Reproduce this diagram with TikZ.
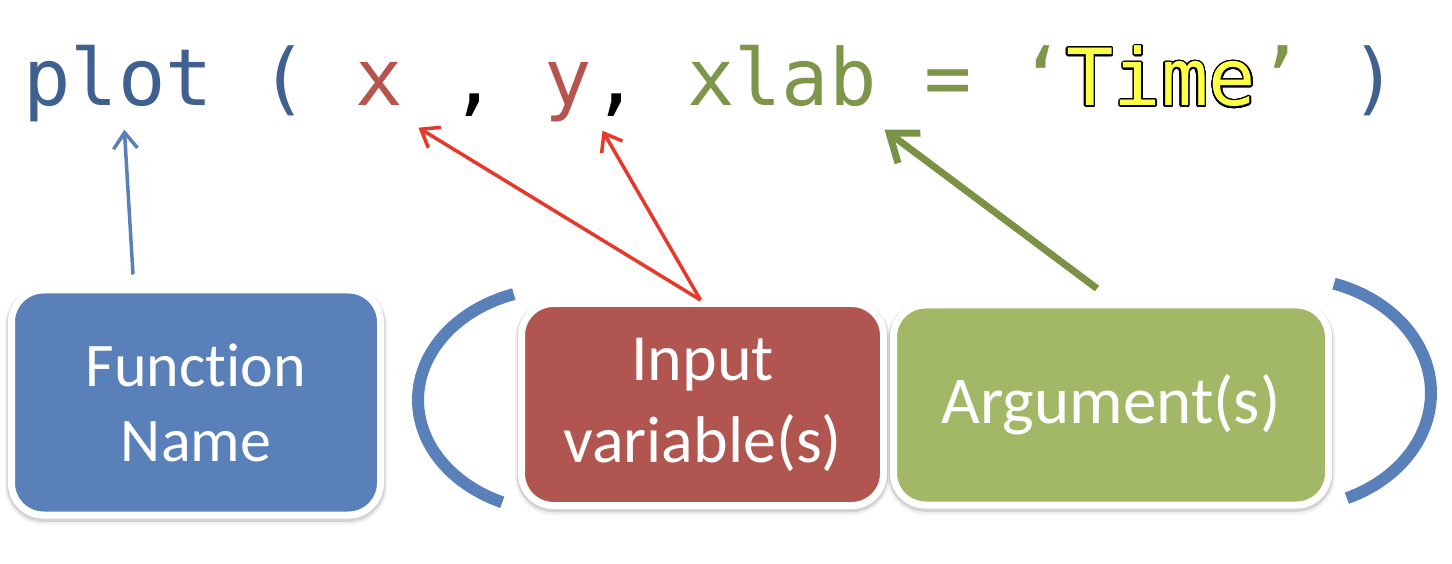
\documentclass[tikz,border=0pt]{standalone}
\usepackage{fontspec}
\usepackage{contour}
\usetikzlibrary{calc}
\usetikzlibrary{arrows.meta}
\newfontfamily\codefont{DejaVu Sans Mono}
\newfontfamily\boxfont[Ligatures={NoCommon,NoContextual}]{Carlito}
\definecolor{codeblue}{HTML}{40608F}
\definecolor{codered}{HTML}{B5554E}
\definecolor{codegreen}{HTML}{7E9649}
\definecolor{timeyellow}{HTML}{FFFF47}
\definecolor{fnblue}{HTML}{5A80B9}
\definecolor{inred}{HTML}{B0554F}
\definecolor{arggreen}{HTML}{A3B867}
\definecolor{ptrred}{HTML}{E7392B}
\definecolor{ptrgreen}{HTML}{7A9245}
\contourlength{1.4pt}
\contournumber{32}
\tikzset{
  codetok/.style={font=\codefont\fontsize{78.8}{80}\selectfont, inner sep=0pt, anchor=base west, text height=0.75em, text depth=0.25em},
  colbox/.style={rounded corners=32pt, draw=white, line width=7pt, text=white, align=center,
    preaction={draw=black, draw opacity=0.06, line width=13pt, transform canvas={yshift=-3pt}},
    preaction={draw=black, draw opacity=0.12, line width=9.5pt, transform canvas={yshift=-2pt}}},
  bracket/.style={draw=fnblue, line width=12pt},
  ptr/.style={-{Straight Barb[length=#1, width=1.5*#1]}}
}
\newcommand{\codetok}[4]{ \node[codetok, text=#3] (#1) at ( #2 , 106 ) {#4};}
\newcommand{\colbox}[8]{ \node[colbox, fill=#2, minimum width=#4, minimum height=#5, font=\boxfont\fontsize{#6}{#7}\selectfont] (#1) at #3 {#8};}

\begin{document}
\begin{tikzpicture}[x=1pt, y=-1pt]
        \useasboundingbox (0,0) rectangle (1452,564);
        % code line
        \codetok{plotkw}{23.3}{codeblue}{plot}
        \codetok{lparen}{260.3}{codeblue}{(}
        \codetok{xvar}{355.1}{codered}{x}
        \codetok{comma1}{449.9}{black}{,}
        \codetok{yvar}{544.7}{codered}{y}
        \codetok{comma2}{592.1}{black}{,}
        \codetok{xlabarg}{686.9}{codegreen}{xlab}
        \codetok{eqsign}{923.9}{codegreen}{=}
        \codetok{timestr}{1018.7}{codegreen}{‘\textcolor{timeyellow}{\contour{black}{Time}}’}
        \codetok{rparen}{1350.5}{codeblue}{)}

        % boxes
        \colbox{fnbox}{fnblue}{(196,402.5)}{369pt}{225pt}{62}{75}{Function\\Name}
        \colbox{inbox}{inred}{(702.5,404.5)}{362pt}{202pt}{66}{82}{Input\\variable(s)}
        \colbox{argbox}{arggreen}{(1111,405)}{435pt}{200pt}{67}{80}{Argument(s)}

        % brackets
        \draw[bracket] (513.8,294.1) arc[start angle=-109, end angle=-246, x radius=142, y radius=112];
        \draw[bracket] (1334,283.7) arc[start angle=-71.8, end angle=66.2, x radius=141, y radius=115];

        % arrows
        \draw[ptr=16pt, draw=fnblue, line width=3.5pt] ([xshift=-63pt, yshift=12pt]fnbox.north) -- ([xshift=6pt, yshift=-21pt]plotkw.south);
        \draw[ptr=16pt, draw=ptrred, line width=3.5pt] ([xshift=-2pt]inbox.north) -- ([xshift=15.5pt, yshift=-19pt]xvar.south east);
        \draw[ptr=16pt, draw=ptrred, line width=3.5pt] ([xshift=-2pt]inbox.north) -- ([xshift=10pt, yshift=-22pt]yvar.south east);
        \draw[ptr=25pt, draw=ptrgreen, line width=7pt] ([xshift=-14pt, yshift=13pt]argbox.north) -- ([xshift=7.5pt, yshift=-21pt]xlabarg.south east);

    \end{tikzpicture}
\end{document}
